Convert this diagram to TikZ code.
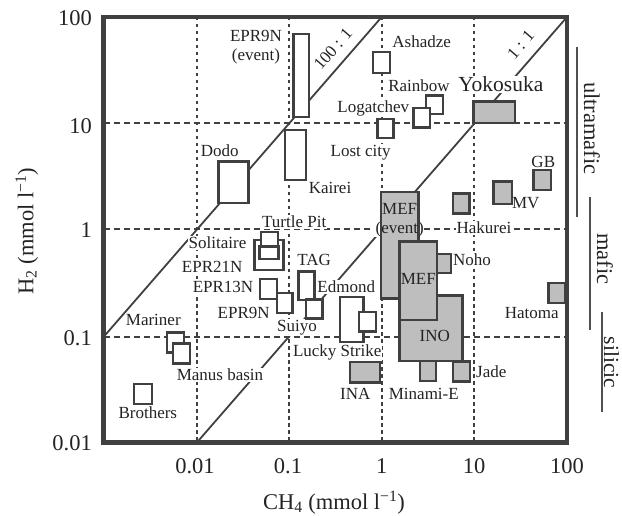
\documentclass[tikz,border=0pt]{standalone}
\usepackage{fontspec}
\setmainfont{Liberation Serif}
\definecolor{edgec}{RGB}{64,64,64}
\definecolor{boxg}{RGB}{190,190,190}
\definecolor{txtc}{RGB}{35,35,35}
\definecolor{sidec}{RGB}{80,80,80}
\begin{document}
\begin{tikzpicture}[x=1pt,y=-1pt,
  every node/.style={text=txtc},
  lab/.style={font=\fontsize{17}{19}\selectfont, fill=white, inner sep=1pt, anchor=base},
  inlab/.style={font=\fontsize{17}{19}\selectfont, inner sep=0pt, align=center},
  ticklab/.style={font=\fontsize{22.5}{24}\selectfont, inner sep=0pt},
  gridh/.style={draw=edgec, line width=2pt, dash pattern=on 6pt off 4pt},
  gridv/.style={draw=edgec, line width=2pt, dash pattern=on 3.5pt off 3.5pt},
  diag/.style={draw=edgec, line width=1.8pt},
  wbox/.style={draw=edgec, line width=2.4pt, fill=white},
  gbox/.style={draw=edgec, line width=2.4pt, fill=boxg},
  side/.style={draw=sidec, line width=2pt}]
\useasboundingbox (0,0) rectangle (622,516);

% frame corners
\coordinate (TL) at (103.5,17);
\coordinate (BR) at (567,442.7);

% grid lines
\coordinate (v1t) at (196.7,17);  \coordinate (v1b) at (196.7,442.7);
\coordinate (v2t) at (289,17);    \coordinate (v2b) at (289,442.7);
\coordinate (v3t) at (381.7,17);  \coordinate (v3b) at (381.7,442.7);
\coordinate (v4t) at (474,17);    \coordinate (v4b) at (474,442.7);
\coordinate (h1l) at (103.5,123);   \coordinate (h1r) at (567,123);
\coordinate (h2l) at (103.5,229.5); \coordinate (h2r) at (567,229.5);
\coordinate (h3l) at (103.5,337);   \coordinate (h3r) at (567,337);
\foreach \a/\b in {v1t/v1b,v2t/v2b,v3t/v3b,v4t/v4b} \draw[gridv] (\a) -- (\b);
\foreach \a/\b in {h1l/h1r,h2l/h2r,h3l/h3r} \draw[gridh] (\a) -- (\b);

% ratio lines
\coordinate (r1a) at (196.7,442.7); \coordinate (r1b) at (567,17);
\coordinate (r2a) at (103.5,337);   \coordinate (r2b) at (381.7,17);
\draw[diag] (r1a) -- (r1b);
\draw[diag] (r2a) -- (r2b);
\node[font=\fontsize{17}{19}\selectfont, rotate=49, inner sep=0pt] (lab11) at (520.8,44.5) {1 : 1};
\node[font=\fontsize{17}{19}\selectfont, rotate=49, inner sep=0pt] (lab100) at (333,49) {100 : 1};

% labels (white backgrounds hide lines behind them)
\node[lab, align=center, anchor=center] (lEPRev) at (256,47.5) {EPR9N\\(event)};
\node[lab] (lAsh) at (421.7,47.2) {Ashadze};
\node[lab] (lRain) at (419,91.5) {Rainbow};
\node[lab, font=\fontsize{21.5}{23}\selectfont] (lYoko) at (500.8,92) {Yokosuka};
\node[lab] (lLog) at (373.3,112.8) {Logatchev};
\node[lab] (lLost) at (360.7,156.2) {Lost city};
\node[lab] (lKai) at (330,193.8) {Kairei};
\node[lab] (lDodo) at (219.7,156.2) {Dodo};
\node[lab] (lGB) at (543.3,167.2) {GB};
\node[lab] (lMV) at (525.8,208.8) {MV};
\node[lab] (lHak) at (484,233.8) {Hakurei};
\node[lab] (lNoho) at (472,265.5) {Noho};
\node[lab] (lHat) at (531.7,318.8) {Hatoma};
\node[lab] (lJade) at (491.3,377.2) {Jade};
\node[lab] (lMin) at (423.8,399.8) {Minami-E};
\node[lab] (lINA) at (355.3,399.8) {INA};
\node[lab] (lLucky) at (337.2,356.5) {Lucky Strike};
\node[lab] (lEdm) at (346.2,292.8) {Edmond};
\node[lab] (lSui) at (297,331.5) {Suiyo};
\node[lab] (lTAG) at (314.2,265.5) {TAG};
\node[lab] (lEPR9) at (243.7,318.8) {EPR9N};
\node[lab] (lEPR13) at (223,292.8) {EPR13N};
\node[lab] (lEPR21) at (212.2,272.2) {EPR21N};
\node[lab] (lSol) at (217.5,248.8) {Solitaire};
\node[lab] (lTur) at (294.2,227.8) {Turtle Pit};
\node[lab] (lMar) at (153.3,325.5) {Mariner};
\node[lab] (lMan) at (220,380.5) {Manus basin};
\node[lab] (lBro) at (147.8,418.8) {Brothers};
\fill[white] (373.5,221) rectangle (380.7,237);

% white boxes
\draw[wbox] (293.3,34.3) rectangle (309,117.3);   % EPR9N event
\draw[wbox] (285,130) rectangle (305.7,180);      % Kairei
\draw[wbox] (218.3,161.7) rectangle (248.3,203.3);% Dodo
\draw[wbox] (373,52) rectangle (390,73);          % Ashadze
\draw[wbox] (426,95.7) rectangle (442.7,114);     % Rainbow
\draw[wbox] (413.3,108.3) rectangle (430,127.7);  % Logatchev
\draw[wbox] (377.3,119) rectangle (393.3,138.3);  % Lost city
\draw[wbox] (254.3,240) rectangle (283.3,270);    % EPR21N
\draw[wbox] (260.7,232.3) rectangle (277.7,248.3);% Turtle Pit
\draw[wbox] (259.3,246.7) rectangle (278.3,259.3);% Solitaire
\draw[wbox] (260,279.3) rectangle (276.7,299);    % EPR13N
\draw[wbox] (276.7,293.3) rectangle (292.3,312.7);% EPR9N
\draw[wbox] (298.3,271.7) rectangle (314.3,300);  % TAG
\draw[wbox] (306,299.3) rectangle (322.3,318.3);  % Suiyo
\draw[wbox] (340,296.7) rectangle (363.3,341.7);  % Lucky Strike
\draw[wbox] (359,312) rectangle (375.7,331.5);    % Edmond
\draw[wbox] (166.7,332.3) rectangle (184,352.3);  % Mariner
\draw[wbox] (172.7,343.3) rectangle (190,363.3);  % Manus basin
\draw[wbox] (134,384) rectangle (151.7,404);      % Brothers

% grey boxes
\draw[gbox] (473.3,101.7) rectangle (515,123.3);  % Yokosuka
\draw[gbox] (533.3,170) rectangle (550.7,190);    % GB
\draw[gbox] (493.3,181.7) rectangle (511.7,204);  % MV
\draw[gbox] (452.7,193.5) rectangle (469.3,213.5);% Hakurei
\draw[gbox] (380.7,192.3) rectangle (418.3,298.3);% MEF event
\draw[gbox] (399.3,295.7) rectangle (462.5,361);  % INO
\draw[gbox] (399.3,241.7) rectangle (436.7,320);  % MEF
\draw[gbox] (436.7,254.3) rectangle (450.7,273.3);% Noho
\draw[gbox] (548.3,283.3) rectangle (565,302.7);  % Hatoma
\draw[gbox] (453,361.3) rectangle (469.7,381.3);  % Jade
\draw[gbox] (420,361) rectangle (436,381);        % Minami-E
\draw[gbox] (350,361.7) rectangle (380,382.3);    % INA

% labels inside grey boxes
\node[inlab] (lMEFev) at (399.7,220.5) {MEF\\(event)};
\node[inlab, anchor=base] (lMEF) at (418.3,284.5) {MEF};
\node[inlab, anchor=base] (lINO) at (434.7,341.5) {INO};

% frame
\draw[draw=edgec, line width=4.5pt] (TL) rectangle (BR);

% axis tick labels
\node[ticklab, anchor=base east] (y100) at (92,25.6) {100};
\node[ticklab, anchor=base east] (y10) at (92,133.3) {10};
\node[ticklab, anchor=base east] (y1) at (92,237.1) {1};
\node[ticklab, anchor=base east] (y01) at (92,345.1) {0.1};
\node[ticklab, anchor=base east] (y001) at (92,450.3) {0.01};
\node[ticklab, anchor=base] (x001) at (195,473.5) {0.01};
\node[ticklab, anchor=base] (x01) at (288,473.5) {0.1};
\node[ticklab, anchor=base] (x1) at (381.7,473.5) {1};
\node[ticklab, anchor=base] (x10) at (474,473.5) {10};
\node[ticklab, anchor=base] (x100) at (567,473.5) {100};

% axis titles
\node[ticklab, anchor=base] (xtitle) at (334,509.5) {CH\textsubscript{4} (mmol l\textsuperscript{−1})};
\node[ticklab, anchor=base, rotate=90] (ytitle) at (33.3,231) {H\textsubscript{2} (mmol l\textsuperscript{−1})};

% rock type bars
\coordinate (u1) at (577.3,46.7);  \coordinate (u2) at (577.3,217.3);
\coordinate (m1) at (590,196.7);   \coordinate (m2) at (590,330);
\coordinate (s1) at (601.7,311.7); \coordinate (s2) at (601.7,411.7);
\draw[side] (u1) -- (u2);
\draw[side] (m1) -- (m2);
\draw[side] (s1) -- (s2);
\node[ticklab, anchor=base, rotate=-90] (tUltra) at (584,128.3) {ultramafic};
\node[ticklab, anchor=base, rotate=-90] (tMafic) at (597,259) {mafic};
\node[ticklab, anchor=base, rotate=-90, font=\fontsize{21.5}{23}\selectfont] (tSil) at (604,362.5) {silicic};
\end{tikzpicture}
\end{document}
